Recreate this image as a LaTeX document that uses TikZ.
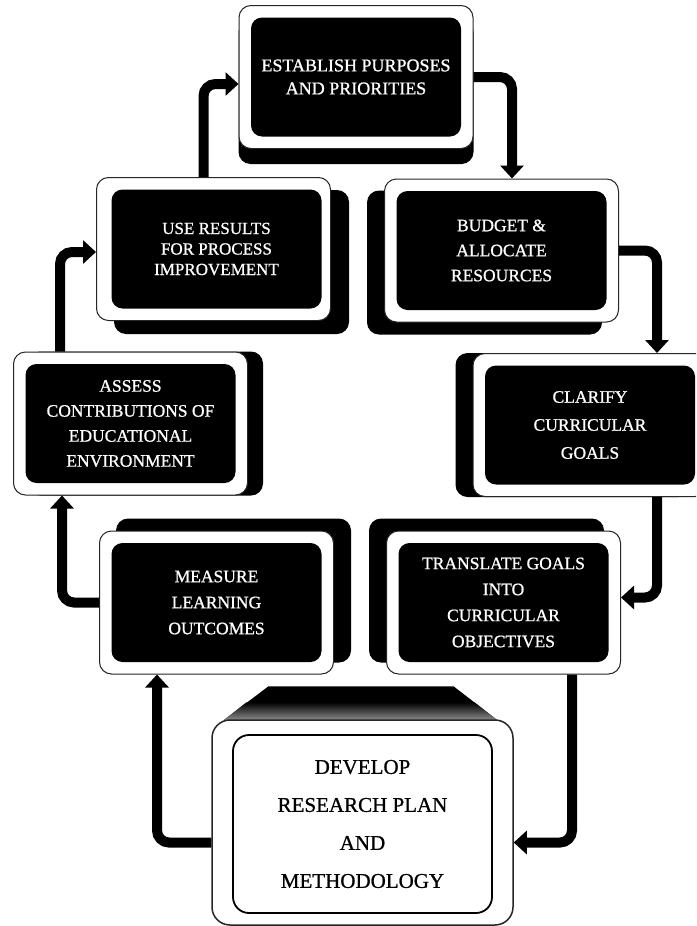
\documentclass[tikz,border=0pt]{standalone}
\usepackage{fontspec}
\setmainfont{Liberation Serif}
\newfontfamily\thickserif{Liberation Serif}[FakeBold=0.9]
\usetikzlibrary{arrows.meta,backgrounds,calc}
\begin{document}
\begin{tikzpicture}[x=1pt,y=-1pt,
  boxframe/.style={draw=black!85, line width=1pt, fill=white, rounded corners=12pt,
    minimum width=234pt, minimum height=143pt, inner sep=0pt},
  core/.style={fill=black, rounded corners=11pt, minimum width=210pt, minimum height=119pt,
    text=white, align=center, inner sep=0pt, font=\thickserif\fontsize{17.5}{25}\selectfont},
  shadowbox/.style={fill=black, rounded corners=12pt},
  flow/.style={line width=10pt, rounded corners=12pt, -{Triangle[width=23pt,length=13pt]}},
]
\clip (0,0) rectangle (696,926);

% boxes
\node[boxframe] (est) at (356,77) {};
\node[core, font=\thickserif\fontsize{18}{23}\selectfont] (estc) at (est.center) {ESTABLISH PURPOSES\\AND PRIORITIES};

\node[boxframe] (use) at (213.5,249) {};
\node[core, font=\thickserif\fontsize{17}{20.5}\selectfont] (usec) at ([xshift=3pt]use.center) {USE RESULTS\\FOR PROCESS\\IMPROVEMENT};

\node[boxframe] (bud) at (501.5,250.5) {};
\node[core] (budc) at (bud.center) {BUDGET \&\\ALLOCATE\\RESOURCES};

\node[boxframe] (ass) at (130.5,423.5) {};
\node[core] (assc) at (ass.center) {ASSESS\\CONTRIBUTIONS OF\\EDUCATIONAL\\ENVIRONMENT};

\node[boxframe] (cla) at (590,425) {};
\node[core, font=\thickserif\fontsize{17.5}{28}\selectfont] (clac) at (cla.center) {CLARIFY\\CURRICULAR\\GOALS};

\node[boxframe] (mea) at (216.5,602.5) {};
\node[core, font=\thickserif\fontsize{17.5}{26}\selectfont] (meac) at (mea.center) {MEASURE\\LEARNING\\OUTCOMES};

\node[boxframe] (tra) at (503.5,602.5) {};
\node[core, font=\thickserif\fontsize{17.5}{26}\selectfont] (trac) at (tra.center) {TRANSLATE GOALS\\INTO\\CURRICULAR\\OBJECTIVES};

\node[boxframe, line width=1.5pt, minimum width=301pt, minimum height=205pt, rounded corners=18pt] (dev) at (362.5,822.5) {};
\node[draw=black, line width=1.8pt, fill=white, rounded corners=16pt, minimum width=259pt,
  minimum height=178pt, inner sep=0pt, align=center, font=\thickserif\fontsize{21}{38}\selectfont]
  (devc) at ([yshift=-1.5pt]dev.center) {DEVELOP\\RESEARCH PLAN\\AND\\METHODOLOGY};

% page, shadows and top face
\begin{scope}[on background layer]
  \fill[white] (0,0) rectangle (696,926);
  \fill[shadowbox] ($(est.south west)+(0,15)$) rectangle ($(est.north east)+(0,15)$);
  \fill[shadowbox] ($(use.south west)+(18,13)$) rectangle ($(use.north east)+(18,13)$);
  \fill[shadowbox] ($(bud.south west)+(-17,12)$) rectangle ($(bud.north east)+(-17,12)$);
  \fill[shadowbox] ($(ass.south west)+(15,0)$) rectangle ($(ass.north east)+(15,0)$);
  \fill[shadowbox] ($(cla.south west)+(-17,0)$) rectangle ($(cla.north east)+(-17,0)$);
  \fill[shadowbox] ($(mea.south west)+(17,-12)$) rectangle ($(mea.north east)+(17,-12)$);
  \fill[shadowbox] ($(tra.south west)+(-17,-12)$) rectangle ($(tra.north east)+(-17,-12)$);
  \fill[black] ($(dev.north)+(-139,1)$) -- ($(dev.north)+(-94,-33)$) -- ($(dev.north)+(91,-33)$)
    -- ($(dev.north)+(135,1)$) -- cycle;
  \shade[top color=black, bottom color=black!45] ($(dev.north)+(-139,1)$) -- ($(dev.north)+(-116,-17)$)
    -- ($(dev.north)+(112,-17)$) -- ($(dev.north)+(135,1)$) -- cycle;
\end{scope}

% connectors
\draw[flow] ([xshift=-10pt]use.north) |- ([yshift=-7pt]est.west);
\draw[flow] (est.east) -| ([xshift=10.5pt]bud.north);
\draw[flow] (bud.east) -| ([xshift=67pt]cla.north);
\draw[flow] ([xshift=67pt]cla.south) |- ([yshift=5pt]tra.east);
\draw[flow] ([xshift=68.5pt]tra.south) |- ([yshift=-20pt]dev.east);
\draw[flow] ([yshift=-20pt]dev.west) -| ([xshift=-59.5pt]mea.south);
\draw[flow] (mea.west) -| ([xshift=-68.5pt]ass.south);
\draw[flow] ([xshift=-70.5pt]ass.north) |- ([yshift=-3pt]use.west);
\end{tikzpicture}
\end{document}
